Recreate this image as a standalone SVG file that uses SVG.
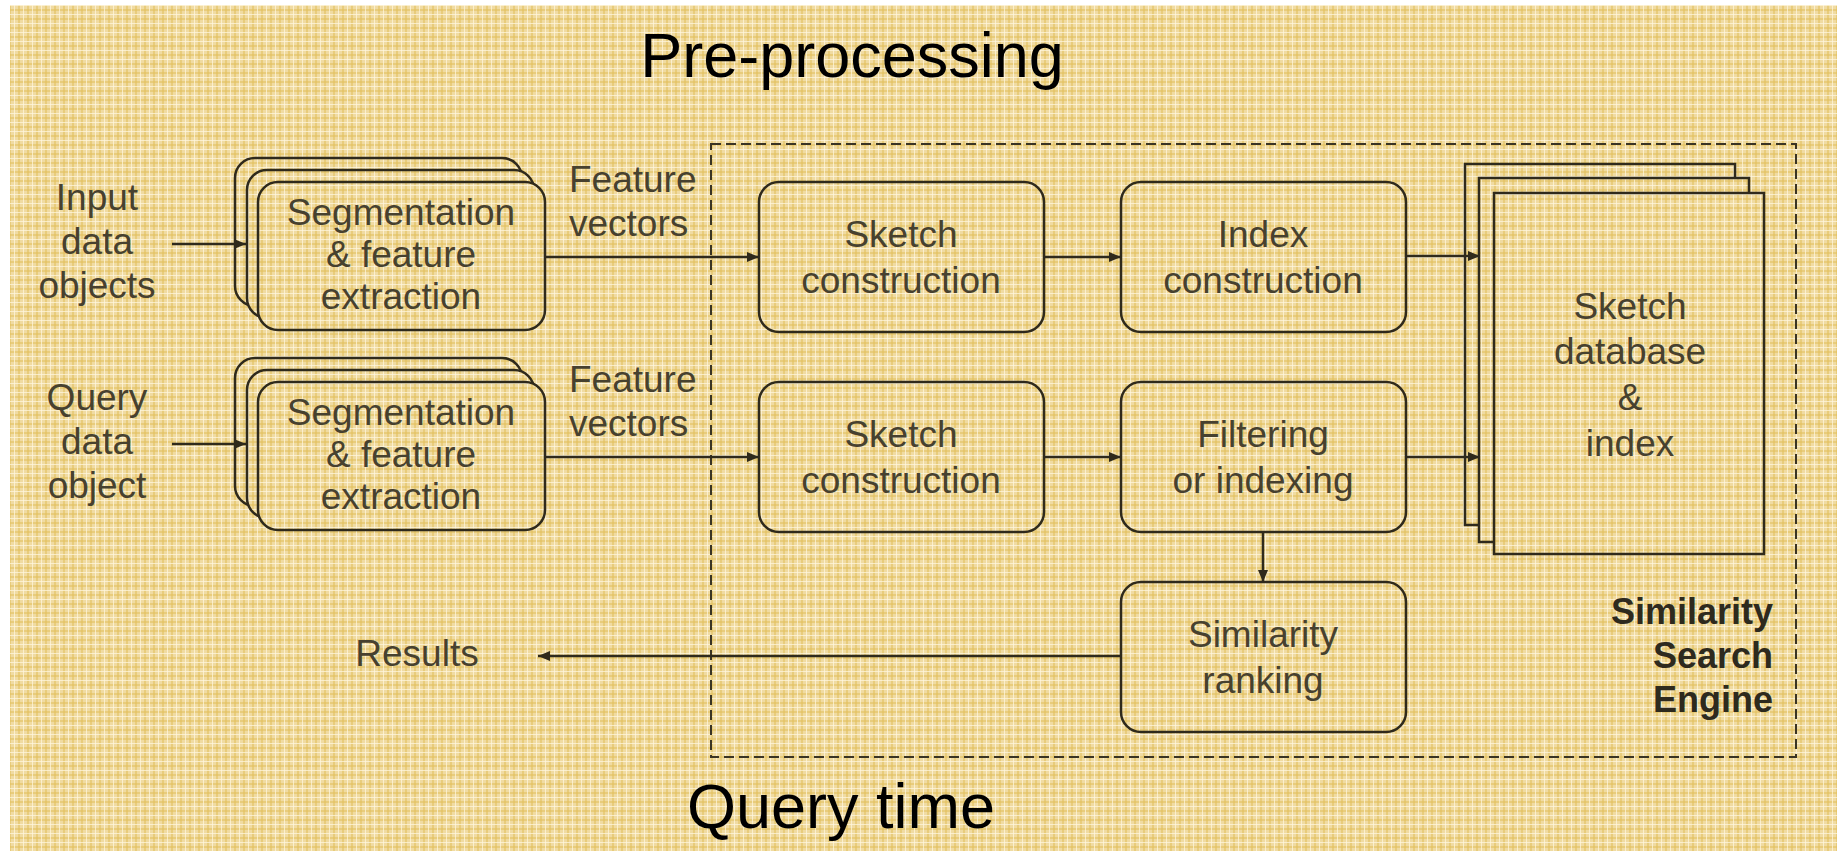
<svg xmlns="http://www.w3.org/2000/svg" width="1837" height="851" viewBox="0 0 1837 851">
<defs>
<pattern id="plaid" x="0" y="0" width="9" height="9" patternUnits="userSpaceOnUse">
<rect width="9" height="9" fill="#F0DBA2"/>
<rect x="0" y="0" width="2" height="9" fill="#E2BE5C" opacity="0.55"/>
<rect x="0" y="0" width="9" height="2" fill="#E2BE5C" opacity="0.55"/>
<rect x="5" y="0" width="1" height="9" fill="#FFF8E2" opacity="0.7"/>
<rect x="0" y="5" width="9" height="1" fill="#FFF8E2" opacity="0.7"/>
</pattern>
<marker id="ah" markerWidth="13" markerHeight="12" refX="12" refY="6" orient="auto" markerUnits="userSpaceOnUse">
<path d="M0,1 L12,6 L0,11 Z" fill="#2f2a1c"/>
</marker>
</defs>
<style>
.box{fill:url(#plaid);stroke:#2f2a1c;stroke-width:2.5}
.lbl{font-family:"Liberation Sans",Arial,sans-serif;font-size:37px;fill:#47412f;text-anchor:middle}
.big{font-family:"Liberation Sans",Arial,sans-serif;font-size:63px;fill:#000;text-anchor:middle}
.eng{font-family:"Liberation Sans",Arial,sans-serif;font-size:36px;font-weight:bold;fill:#2e2a1e;text-anchor:end}
.con{fill:none;stroke:#2f2a1c;stroke-width:2.5}
.dash{fill:none;stroke:#3a3424;stroke-width:2;stroke-dasharray:10 5}
</style>
<rect x="0" y="0" width="1837" height="851" fill="#fff"/>
<rect x="10" y="5" width="1827" height="846" fill="url(#plaid)"/>

<g id="titles">
<text class="big" x="852" y="77">Pre-processing</text>
<text class="big" x="841" y="828">Query time</text>
</g>

<g id="engine">
<rect class="dash" x="711" y="144" width="1085" height="613"/>
<text class="eng" x="1773" y="624">Similarity</text>
<text class="eng" x="1773" y="668">Search</text>
<text class="eng" x="1773" y="712">Engine</text>
</g>

<g id="input-label">
<text class="lbl" x="97" y="210">Input</text>
<text class="lbl" x="97" y="254">data</text>
<text class="lbl" x="97" y="298">objects</text>
</g>

<g id="query-label">
<text class="lbl" x="97" y="410">Query</text>
<text class="lbl" x="97" y="454">data</text>
<text class="lbl" x="97" y="498">object</text>
</g>

<g id="seg-top">
<rect class="box" x="235" y="158" width="287" height="148" rx="20"/>
<rect class="box" x="247" y="170" width="287" height="148" rx="20"/>
<rect class="box" x="258" y="182" width="287" height="148" rx="20"/>
<text class="lbl" x="401" y="225">Segmentation</text>
<text class="lbl" x="401" y="267">&amp; feature</text>
<text class="lbl" x="401" y="309">extraction</text>
</g>

<g id="seg-bottom">
<rect class="box" x="235" y="358" width="287" height="148" rx="20"/>
<rect class="box" x="247" y="370" width="287" height="148" rx="20"/>
<rect class="box" x="258" y="382" width="287" height="148" rx="20"/>
<text class="lbl" x="401" y="425">Segmentation</text>
<text class="lbl" x="401" y="467">&amp; feature</text>
<text class="lbl" x="401" y="509">extraction</text>
</g>

<g id="fv-top">
<text class="lbl" x="569" y="192" style="text-anchor:start">Feature</text>
<text class="lbl" x="569" y="236" style="text-anchor:start">vectors</text>
</g>
<g id="fv-bottom">
<text class="lbl" x="569" y="392" style="text-anchor:start">Feature</text>
<text class="lbl" x="569" y="436" style="text-anchor:start">vectors</text>
</g>

<g id="sketch-top">
<rect class="box" x="759" y="182" width="285" height="150" rx="20"/>
<text class="lbl" x="901" y="247">Sketch</text>
<text class="lbl" x="901" y="293">construction</text>
</g>

<g id="index">
<rect class="box" x="1121" y="182" width="285" height="150" rx="20"/>
<text class="lbl" x="1263" y="247">Index</text>
<text class="lbl" x="1263" y="293">construction</text>
</g>

<g id="sketch-bottom">
<rect class="box" x="759" y="382" width="285" height="150" rx="20"/>
<text class="lbl" x="901" y="447">Sketch</text>
<text class="lbl" x="901" y="493">construction</text>
</g>

<g id="filtering">
<rect class="box" x="1121" y="382" width="285" height="150" rx="20"/>
<text class="lbl" x="1263" y="447">Filtering</text>
<text class="lbl" x="1263" y="493">or indexing</text>
</g>

<g id="ranking">
<rect class="box" x="1121" y="582" width="285" height="150" rx="20"/>
<text class="lbl" x="1263" y="647">Similarity</text>
<text class="lbl" x="1263" y="693">ranking</text>
</g>

<g id="database">
<rect class="box" x="1465" y="164" width="270" height="361"/>
<rect class="box" x="1479" y="178" width="270" height="364"/>
<rect class="box" x="1494" y="193" width="270" height="361"/>
<text class="lbl" x="1630" y="319">Sketch</text>
<text class="lbl" x="1630" y="364">database</text>
<text class="lbl" x="1630" y="410">&amp;</text>
<text class="lbl" x="1630" y="456">index</text>
</g>

<g id="results">
<text class="lbl" x="417" y="666">Results</text>
</g>

<g id="connectors">
<path class="con" d="M172,244 H246" marker-end="url(#ah)"/>
<path class="con" d="M172,444 H246" marker-end="url(#ah)"/>
<path class="con" d="M545,257 H759" marker-end="url(#ah)"/>
<path class="con" d="M545,457 H759" marker-end="url(#ah)"/>
<path class="con" d="M1044,257 H1121" marker-end="url(#ah)"/>
<path class="con" d="M1044,457 H1121" marker-end="url(#ah)"/>
<path class="con" d="M1406,256 H1480" marker-end="url(#ah)"/>
<path class="con" d="M1406,457 H1480" marker-end="url(#ah)"/>
<path class="con" d="M1263,532 V582" marker-end="url(#ah)"/>
<path class="con" d="M1121,656 H538" marker-end="url(#ah)"/>
</g>
</svg>
